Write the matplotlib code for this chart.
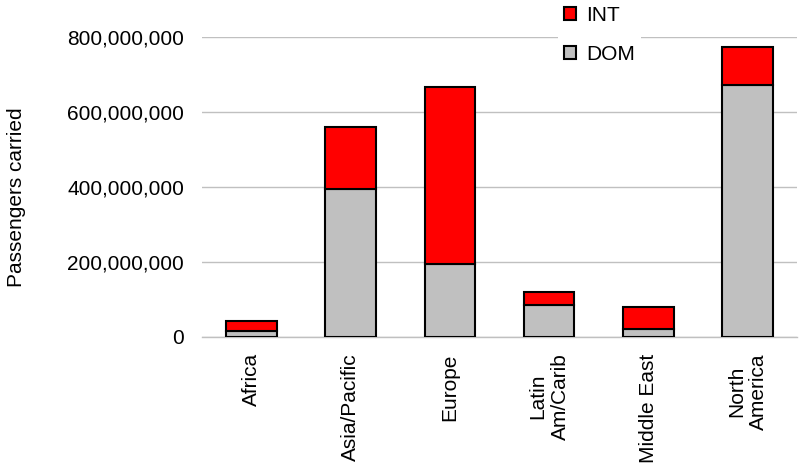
import numpy as np
import matplotlib
matplotlib.use("Agg")
import matplotlib.pyplot as plt
from matplotlib.ticker import FuncFormatter

plt.rcParams['font.family'] = ['Liberation Sans', 'DejaVu Sans']

regions = ["Africa", "Asia/Pacific", "Europe", "Latin\nAm/Carib", "Middle East", "North\nAmerica"]
dom = [16e6, 394e6, 193e6, 85e6, 21e6, 671e6]
intl = [27e6, 166e6, 474e6, 33e6, 59e6, 102e6]

fig = plt.figure(figsize=(7.99, 4.68), dpi=100)
ax = fig.add_axes([202 / 799, 1 - 336.7 / 468, 595 / 799, 300 / 468])

x = np.arange(len(regions))
b1 = ax.bar(x, dom, width=0.51, color='#C0C0C0', edgecolor='black', linewidth=1.5, label='DOM', zorder=3)
b2 = ax.bar(x, intl, width=0.51, bottom=dom, color='#FF0000', edgecolor='black', linewidth=1.5, label='INT', zorder=3)

ax.set_xlim(-0.5, len(regions) - 0.5)
ax.set_ylim(0, 800e6)
ax.set_yticks([0, 200e6, 400e6, 600e6, 800e6])
ax.yaxis.set_major_formatter(FuncFormatter(lambda v, p: f"{int(v):,}"))
ax.yaxis.grid(True, color='#C0C0C0', linewidth=1.0, zorder=0)
ax.set_axisbelow(True)
for s in ['top', 'right', 'left']:
    ax.spines[s].set_visible(False)
ax.spines['bottom'].set_color('#C0C0C0')
ax.spines['bottom'].set_linewidth(1.0)

ax.set_xticks(x)
ax.set_xticklabels(regions, rotation=90, fontsize=15, multialignment='center')
ax.tick_params(axis='x', length=0, pad=12)
ax.tick_params(axis='y', length=0, pad=13, labelsize=15)

fig.text(17 / 799, 1 - 197 / 468, "Passengers carried", rotation=90, fontsize=15,
         ha='center', va='center')

leg = ax.legend([b2, b1], ['INT', 'DOM'], loc='upper left',
                bbox_to_anchor=(558 / 799, 1.0), bbox_transform=fig.transFigure,
                fontsize=15, handlelength=0.58, handleheight=0.58, handletextpad=0.48,
                labelspacing=0.95, borderpad=0.3, borderaxespad=0,
                frameon=True, fancybox=False, framealpha=1, edgecolor='none', facecolor='white')

fig.savefig("out.png", dpi=100)
